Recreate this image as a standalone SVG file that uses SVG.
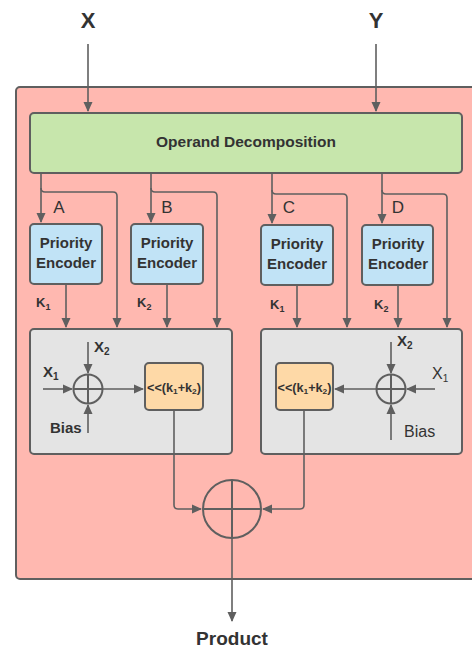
<svg xmlns="http://www.w3.org/2000/svg" width="472" height="650" viewBox="0 0 472 650">
<defs>
<marker id="ah" markerWidth="10" markerHeight="10" refX="9" refY="5" orient="auto" markerUnits="userSpaceOnUse">
<path d="M0,0.5 L10,5 L0,9.5 Z" fill="#5f5f5f"/>
</marker>
<style>
.st{stroke:#5f5f5f;stroke-width:2;}
.ln{fill:none;stroke:#5f5f5f;stroke-width:1.6;}
.t{font-family:"Liberation Sans",Arial,sans-serif;fill:#333;}
.b{font-weight:bold;}
</style>
</defs>
<rect width="472" height="650" fill="#fff"/>
<g id="outer"><rect x="16" y="87" width="470" height="492" rx="4" fill="#ffb8b0" class="st"/></g>
<g id="labels">
<text x="88" y="28" text-anchor="middle" class="t b" font-size="22">X</text>
<text x="376" y="28" text-anchor="middle" class="t b" font-size="22">Y</text>
<text x="232" y="645" text-anchor="middle" class="t b" font-size="19">Product</text>
</g>
<g id="decomp"><rect x="30" y="113" width="432" height="60" rx="4" fill="#c7e6ac" class="st"/>
<text x="246" y="147" text-anchor="middle" class="t b" font-size="15.5">Operand Decomposition</text></g>
<g id="enc-a"><rect x="30" y="224" width="72" height="60" rx="4" fill="#c1e3f6" class="st"/>
<text x="66" y="248" text-anchor="middle" class="t b" font-size="15">Priority</text>
<text x="66" y="268" text-anchor="middle" class="t b" font-size="15">Encoder</text></g>
<g id="enc-b"><rect x="131" y="224" width="72" height="60" rx="4" fill="#c1e3f6" class="st"/>
<text x="167" y="248" text-anchor="middle" class="t b" font-size="15">Priority</text>
<text x="167" y="268" text-anchor="middle" class="t b" font-size="15">Encoder</text></g>
<g id="enc-c"><rect x="261" y="225" width="72" height="60" rx="4" fill="#c1e3f6" class="st"/>
<text x="297" y="249" text-anchor="middle" class="t b" font-size="15">Priority</text>
<text x="297" y="269" text-anchor="middle" class="t b" font-size="15">Encoder</text></g>
<g id="enc-d"><rect x="362" y="225" width="71" height="60" rx="4" fill="#c1e3f6" class="st"/>
<text x="398" y="249" text-anchor="middle" class="t b" font-size="15">Priority</text>
<text x="398" y="269" text-anchor="middle" class="t b" font-size="15">Encoder</text></g>
<g id="unit-left"><rect x="30" y="329" width="202" height="125" rx="4" fill="#e4e4e4" class="st"/>
<circle cx="88" cy="389" r="14.5" fill="none" class="st"/>
<path d="M73.5,389 H102.5 M88,374.5 V403.5" class="st"/>
<rect x="145" y="363" width="58" height="47" rx="4" fill="#fed9a7" class="st"/>
<text x="174" y="392" text-anchor="middle" class="t b" font-size="12" textLength="54" lengthAdjust="spacingAndGlyphs">&lt;&lt;(k<tspan font-size="8" dy="2">1</tspan><tspan dy="-2">+k</tspan><tspan font-size="8" dy="2">2</tspan><tspan dy="-2">)</tspan></text>
<text x="43" y="377" class="t b" font-size="15">X<tspan font-size="10" dy="3">1</tspan></text>
<text x="94" y="352" class="t b" font-size="15">X<tspan font-size="10" dy="3">2</tspan></text>
<text x="50" y="433" class="t b" font-size="15">Bias</text></g>
<g id="unit-right"><rect x="261" y="329" width="201" height="125" rx="4" fill="#e4e4e4" class="st"/>
<circle cx="391" cy="389" r="14.5" fill="none" class="st"/>
<path d="M376.5,389 H405.5 M391,374.5 V403.5" class="st"/>
<rect x="276" y="363" width="57" height="47" rx="4" fill="#fed9a7" class="st"/>
<text x="304.5" y="392" text-anchor="middle" class="t b" font-size="12" textLength="54" lengthAdjust="spacingAndGlyphs">&lt;&lt;(k<tspan font-size="8" dy="2">1</tspan><tspan dy="-2">+k</tspan><tspan font-size="8" dy="2">2</tspan><tspan dy="-2">)</tspan></text>
<text x="432" y="379" class="t" font-size="16">X<tspan font-size="10" dy="3">1</tspan></text>
<text x="397" y="346" class="t b" font-size="15">X<tspan font-size="10" dy="3">2</tspan></text>
<text x="404" y="437" class="t" font-size="16">Bias</text></g>
<g id="final-add"><circle cx="232" cy="509" r="29" fill="none" class="st"/>
<path d="M203,509 H261 M232,480 V538" class="st"/></g>
<g id="connectors">
<path d="M88,44 V111" class="ln" marker-end="url(#ah)"/>
<path d="M376,44 V111" class="ln" marker-end="url(#ah)"/>
<path d="M41,173 V222" class="ln" marker-end="url(#ah)"/>
<path d="M41,188 Q41,192 45,192 H113 Q117,192 117,196 V327" class="ln" marker-end="url(#ah)"/>
<path d="M151,173 V222" class="ln" marker-end="url(#ah)"/>
<path d="M151,188 Q151,192 155,192 H213 Q217,192 217,196 V327" class="ln" marker-end="url(#ah)"/>
<path d="M272,173 V223" class="ln" marker-end="url(#ah)"/>
<path d="M272,190 Q272,194 276,194 H343 Q347,194 347,198 V327" class="ln" marker-end="url(#ah)"/>
<path d="M382,173 V223" class="ln" marker-end="url(#ah)"/>
<path d="M382,190 Q382,194 386,194 H443 Q447,194 447,198 V327" class="ln" marker-end="url(#ah)"/>
<path d="M66,284 V327" class="ln" marker-end="url(#ah)"/>
<path d="M167,284 V327" class="ln" marker-end="url(#ah)"/>
<path d="M297,285 V327" class="ln" marker-end="url(#ah)"/>
<path d="M398,285 V327" class="ln" marker-end="url(#ah)"/>
<path d="M43,389 H72" class="ln" marker-end="url(#ah)"/>
<path d="M88,342 V373" class="ln" marker-end="url(#ah)"/>
<path d="M88,433 V405" class="ln" marker-end="url(#ah)"/>
<path d="M103,389 H143" class="ln" marker-end="url(#ah)"/>
<path d="M435,389 H407" class="ln" marker-end="url(#ah)"/>
<path d="M391,342 V373" class="ln" marker-end="url(#ah)"/>
<path d="M391,440 V405" class="ln" marker-end="url(#ah)"/>
<path d="M376,389 H335" class="ln" marker-end="url(#ah)"/>
<path d="M174,410 V505 Q174,509 178,509 H201" class="ln" marker-end="url(#ah)"/>
<path d="M304,410 V505 Q304,509 300,509 H263" class="ln" marker-end="url(#ah)"/>
<path d="M232,538 V621" class="ln" marker-end="url(#ah)"/>
</g>
<g id="branch-labels">
<text x="59" y="213" text-anchor="middle" class="t" font-size="17">A</text>
<text x="167" y="213" text-anchor="middle" class="t" font-size="17">B</text>
<text x="289" y="213" text-anchor="middle" class="t" font-size="17">C</text>
<text x="398" y="213" text-anchor="middle" class="t" font-size="17">D</text>
<text x="36" y="307" class="t b" font-size="13">K<tspan font-size="9" dy="3">1</tspan></text>
<text x="137" y="307" class="t b" font-size="13">K<tspan font-size="9" dy="3">2</tspan></text>
<text x="270" y="309" class="t b" font-size="13">K<tspan font-size="9" dy="3">1</tspan></text>
<text x="374" y="309" class="t b" font-size="13">K<tspan font-size="9" dy="3">2</tspan></text>
</g>
</svg>
